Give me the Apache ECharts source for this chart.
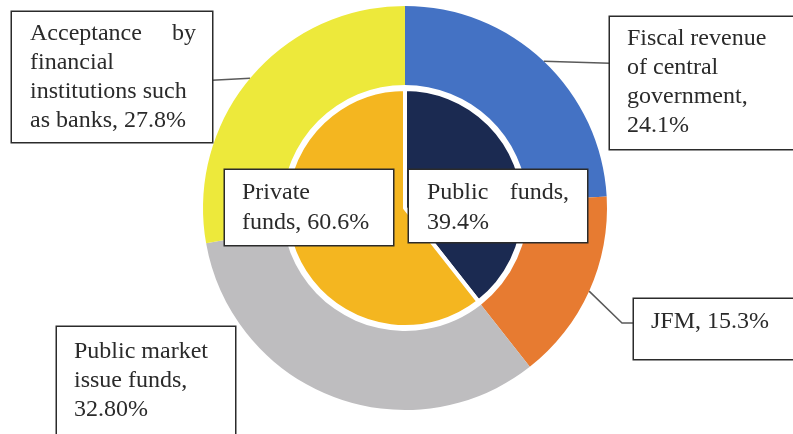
<!DOCTYPE html>
<html>
<head>
<meta charset="utf-8">
<script src="https://cdn.jsdelivr.net/npm/echarts@6/dist/echarts.min.js"></script>
<style>
  html, body { margin: 0; padding: 0; background: #ffffff; }
  #chart { width: 793px; height: 434px; }
</style>
</head>
<body>
<div id="chart"></div>
<script>
// Inner pie: where the money comes from
const sourceNames = ['Public funds', 'Private funds'];
const sourceValues = [39.4, 60.6];
const sourceDigits = [1, 1];

// Outer ring: the channels behind each source
const channelNames = [
  'Fiscal revenue of central government',
  'JFM',
  'Public market issue funds',
  'Acceptance by financial institutions such as banks'
];
const channelValues = [24.1, 15.3, 32.8, 27.8];
const channelDigits = [1, 1, 2, 1];

// Wrapped label text (value is appended from the data)
const sourceLabelLines = [
  ['{l|Public}{r|funds,}', ''],
  ['Private', 'funds, ']
];
const channelLabelLines = [
  ['Fiscal revenue', 'of central', 'government,', ''],
  ['JFM, '],
  ['Public market', 'issue funds,', ''],
  ['{l|Acceptance}{r|by}', 'financial', 'institutions such', 'as banks, ']
];

const sourceColors = ['#1b2a51', '#f4b620'];
const channelColors = ['#4472c4', '#e77b31', '#bebdbf', '#ede93b'];

// Label box placement: left, top, outer width, outer height, padding [t, r, b, l]
const channelBoxes = [
  { x: 610, y: 17,  w: 200, h: 132, pad: [7, 10, 0, 17] },
  { x: 634, y: 299, w: 180, h: 60,  pad: [8, 10, 0, 17] },
  { x: 57,  y: 327, w: 178, h: 130, pad: [10, 10, 0, 17] },
  { x: 12,  y: 12,  w: 200, h: 130, pad: [7, 16, 0, 18] }
];
const sourceBoxes = [
  { x: 409, y: 170, w: 178, h: 72, pad: [8, 18, 0, 18] },
  { x: 225, y: 170, w: 168, h: 75, pad: [8, 8, 0, 17] }
];

const FONT = "'Liberation Serif', 'Times New Roman', serif";
const FONT_SIZE = 24;

function pct(v, d) { return v.toFixed(d) + '%'; }

function boxLabel(box, text, lineHeight) {
  return {
    formatter: text,
    width: box.w - box.pad[1] - box.pad[3],
    height: box.h - box.pad[0] - box.pad[2],
    padding: box.pad,
    backgroundColor: '#ffffff',
    borderColor: '#2b2b2b',
    borderWidth: 1.5,
    color: '#2a2a2a',
    fontFamily: FONT,
    fontSize: FONT_SIZE,
    lineHeight: lineHeight,
    overflow: 'none',
    align: 'left',
    verticalAlign: 'top',
    rich: {
      l: { fontFamily: FONT, fontSize: FONT_SIZE, lineHeight: lineHeight, color: '#2a2a2a' },
      r: { fontFamily: FONT, fontSize: FONT_SIZE, lineHeight: lineHeight, color: '#2a2a2a', align: 'right' }
    }
  };
}

function labelText(lines, value, digits) {
  const out = lines.slice();
  out[out.length - 1] = out[out.length - 1] + pct(value, digits);
  return out.join('\n');
}

const sourceData = sourceNames.map((name, i) => ({
  name: name,
  value: sourceValues[i],
  itemStyle: { color: sourceColors[i] },
  label: boxLabel(sourceBoxes[i], labelText(sourceLabelLines[i], sourceValues[i], sourceDigits[i]), 30)
}));

const channelData = channelNames.map((name, i) => ({
  name: name,
  value: channelValues[i],
  itemStyle: { color: channelColors[i] },
  label: boxLabel(channelBoxes[i], labelText(channelLabelLines[i], channelValues[i], channelDigits[i]), 29),
  labelLine: { show: i !== 2 }
}));

// Leader lines: start at the slice's outer edge, run out to the box
function channelLine(i, p0) {
  const b = channelBoxes[i];
  if (i === 0) return [p0, [(p0[0] + b.x) / 2, p0[1] + 1], [b.x, p0[1] + 2]];
  if (i === 1) { const yb = b.y + 24; return [p0, [b.x - 12, yb], [b.x, yb]]; }
  if (i === 3) { const xr = b.x + b.w; return [p0, [(p0[0] + xr) / 2, p0[1] + 1], [xr, p0[1] + 2]]; }
  return null;
}

const chart = echarts.init(document.getElementById('chart'), null, { renderer: 'canvas' });
chart.setOption({
  backgroundColor: '#ffffff',
  animation: false,
  series: [
    {
      name: 'Sources',
      type: 'pie',
      center: [405, 208],
      radius: [0, 119],
      startAngle: 90,
      clockwise: true,
      avoidLabelOverlap: false,
      itemStyle: { borderColor: '#ffffff', borderWidth: 4 },
      label: { show: true, position: 'inside' },
      labelLine: { show: false },
      emphasis: { disabled: true },
      labelLayout: function (params) {
        const b = sourceBoxes[params.dataIndex];
        return { x: b.x, y: b.y, align: 'left', verticalAlign: 'top' };
      },
      data: sourceData,
      z: 2
    },
    {
      name: 'Channels',
      type: 'pie',
      center: [405, 208],
      radius: [123, 202],
      startAngle: 90,
      clockwise: true,
      avoidLabelOverlap: false,
      itemStyle: { borderWidth: 0 },
      label: { show: true, position: 'outside' },
      labelLine: { show: true, length: 10, length2: 10, lineStyle: { color: '#5a5a5a', width: 1.5 } },
      emphasis: { disabled: true },
      labelLayout: function (params) {
        const i = params.dataIndex;
        const b = channelBoxes[i];
        const res = { x: b.x, y: b.y, align: 'left', verticalAlign: 'top' };
        const pts = params.labelLinePoints;
        if (pts && pts.length) {
          const line = channelLine(i, pts[0]);
          if (line) res.labelLinePoints = line;
        }
        return res;
      },
      data: channelData,
      z: 1
    }
  ]
});
</script>
</body>
</html>
